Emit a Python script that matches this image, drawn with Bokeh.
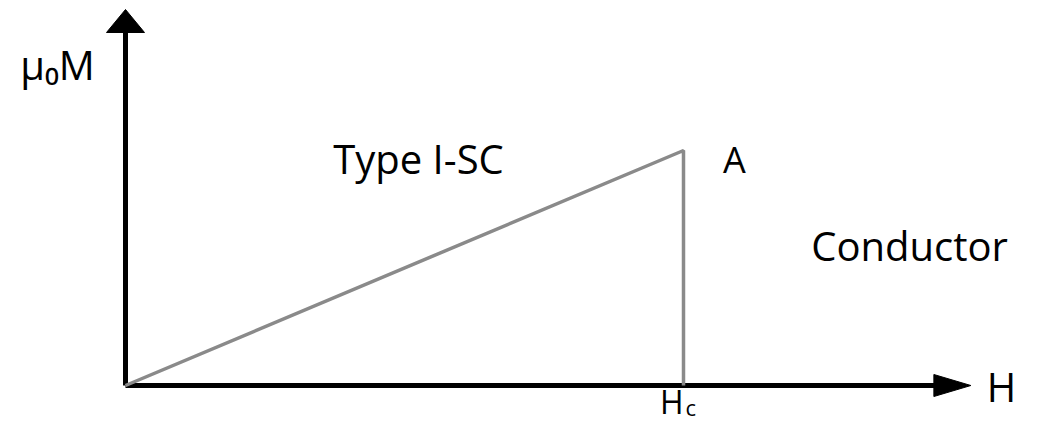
from bokeh.plotting import figure
from bokeh.models import Range1d
from bokeh.core.properties import value
from bokeh.embed import file_html
from bokeh.resources import INLINE

# Magnetisation curve of a type I superconductor (normalised units)
h_points = [0.0, 1.0, 1.0]   # applied field H, in units of Hc
m_points = [0.0, 1.0, 0.0]   # mu0*M, in units of its value at Hc
h_axis_end = 1.515           # length of the H axis arrow
m_axis_end = 1.60            # length of the mu0*M axis arrow

W, H = 1040, 427
X0, Y0 = 125, 385            # pixel position of the origin
SX, SY = 558, 235            # pixels per unit along H and mu0*M

def dx(px):
    return (px - X0) / SX

def dy(py):
    return (Y0 - py) / SY

p = figure(width=W, height=H, output_backend="svg", toolbar_location=None,
           x_range=Range1d(dx(0), dx(W)), y_range=Range1d(dy(H), dy(0)),
           min_border=0, outline_line_color=None)
p.axis.visible = False
p.grid.visible = False
p.background_fill_color = "white"
p.border_fill_color = "white"

# Axes drawn as arrows
p.segment(x0=[0, 0], y0=[0, 0], x1=[h_axis_end - 30 / SX, 0],
          y1=[0, m_axis_end - 20 / SY], line_color="black", line_width=5)
hx, hy = h_axis_end, 0.0
p.patch(x=[hx, hx - 37 / SX, hx - 37 / SX], y=[hy, hy + 11 / SY, hy - 11 / SY],
        fill_color="black", line_color="black")
vx, vy = 0.0, m_axis_end
p.patch(x=[vx, vx - 19 / SX, vx + 19 / SX], y=[vy, vy - 23 / SY, vy - 23 / SY],
        fill_color="black", line_color="black")

# Magnetisation curve
p.line(h_points, m_points, line_color="#8a8a8a", line_width=3.5)

font = value("Open Sans")
def label(txt, px, py, size, align="center"):
    p.text(x=[dx(px)], y=[dy(py)], text=[txt], text_font=font,
           text_font_size=size, text_color="black",
           text_align=align, text_baseline="middle")

label("\u03bc\u2080M", 57, 64, "40px")
label("Type I-SC", 418, 158, "40px")
label("A", 734, 159, "36px")
label("Conductor", 909, 245, "40px")
label("H", 1001, 386, "40px")
label("H", 683, 401, "32px", align="right")
label("c", 685, 406, "22px", align="left")

open("out.html", "w").write(file_html(p, INLINE))
